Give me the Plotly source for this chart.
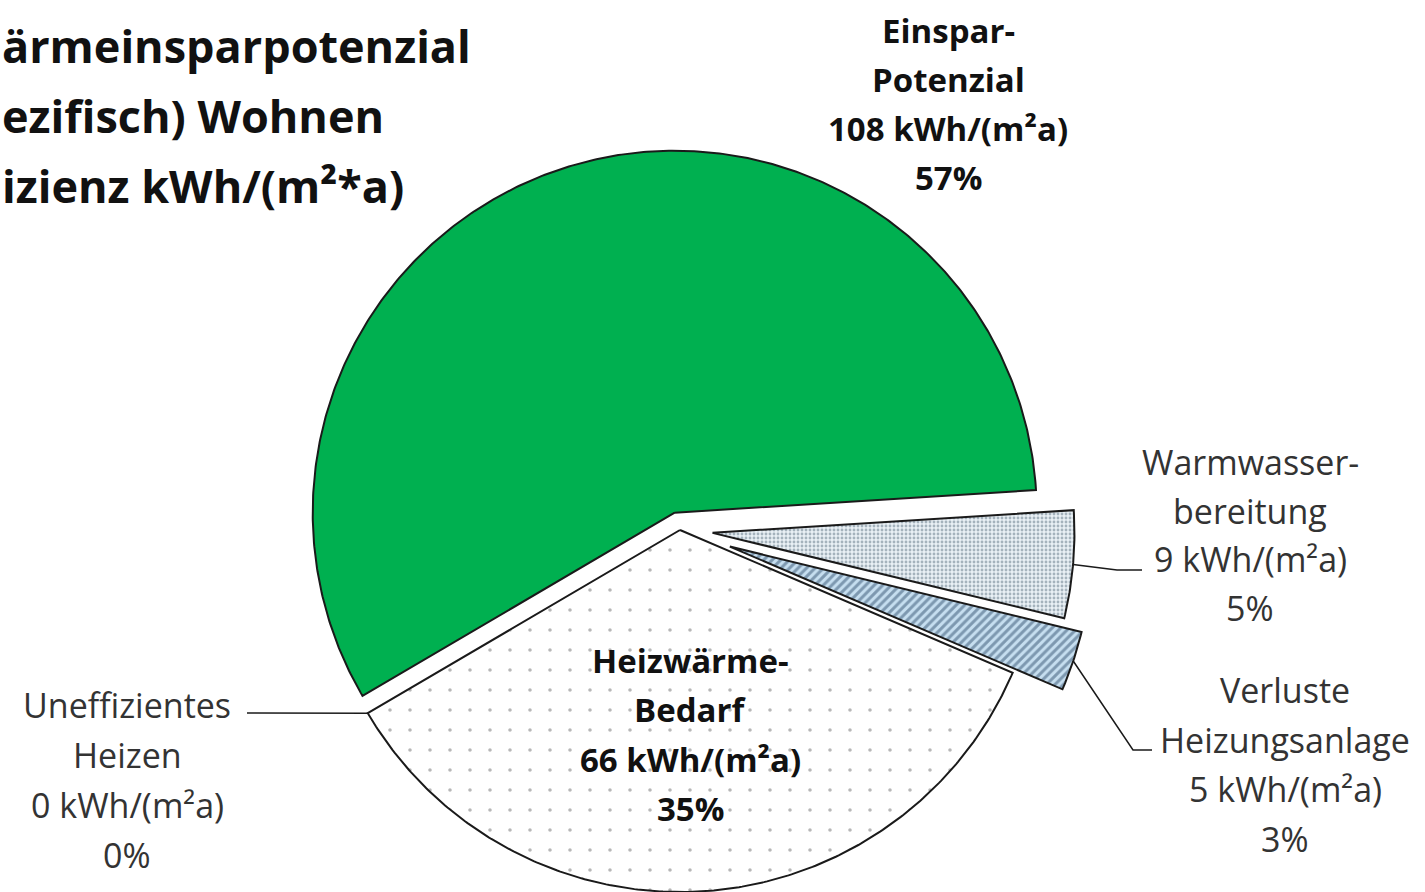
import numpy as np
import plotly.graph_objects as go

# ---------------------------------------------------------------------------
# Data
# ---------------------------------------------------------------------------
slice_names = ["Einspar-Potenzial", "Warmwasserbereitung", "Verluste Heizungsanlage",
               "Heizwärme-Bedarf", "Uneffizientes Heizen"]
label_lines = [["Einspar-", "Potenzial"],
               ["Warmwasser-", "bereitung"],
               ["Verluste", "Heizungsanlage"],
               ["Heizwärme-", "Bedarf"],
               ["Uneffizientes", "Heizen"]]
values = [108, 9, 5, 66, 0]          # kWh/(m²a)
pulls = [0.05, 0.09, 0.145, 0.0, 0.0]  # explosion, fraction of radius

title_lines = ["ärmeinsparpotenzial", "ezifisch) Wohnen", "izienz kWh/(m²*a)"]

# ---------------------------------------------------------------------------
# Layout / style
# ---------------------------------------------------------------------------
W, H = 1425, 892
CX, CY = 680, 530          # pie centre (screen px)
R = 362
START = 210.4              # first slice starts here (deg, ccw from east), runs clockwise
FONT = "Open Sans"
LINE = "#1a1a1a"

fills = [
    dict(fillcolor="#00B050"),
    dict(fillcolor="#e9f0f5", fillpattern=dict(shape=".", size=4, solidity=0.4,
                                               fgcolor="#5f7384", bgcolor="#e9f0f5")),
    dict(fillcolor="#c6def0", fillpattern=dict(shape="/", size=6, solidity=0.5,
                                               fgcolor="#34526f", bgcolor="#c6def0")),
    dict(fillcolor="white", fillpattern=dict(shape=".", size=20, solidity=0.025,
                                             fgcolor="#6f6f6f", bgcolor="white")),
    dict(fillcolor="white"),
]
bold = [True, False, False, True, False]

# label block: centre x, first line y, line step (screen px)
label_pos = [(948, 30, 49), (1250, 462, 48.5), (1285, 690, 49.5),
             (690, 660, 49.5), (127, 705, 50)]
# leader lines: elbow and end points (screen px); start is the slice arc
leader_pts = [None, [(1117, 570), (1142, 570)], [(1133, 750), (1152, 750)],
              None, [(247, 713)]]


def sy(y):
    return H - y


total = float(sum(values))
fig = go.Figure()

angle = START
arc_anchor = []
for i, v in enumerate(values):
    span = v / total * 360.0
    a0, a1 = angle, angle - span
    angle = a1
    mid = np.radians((a0 + a1) / 2)
    ox = CX + pulls[i] * R * np.cos(mid)
    oy = sy(CY) + pulls[i] * R * np.sin(mid)
    if v > 0:
        th = np.radians(np.linspace(a0, a1, max(int(span * 2), 8)))
        xs = np.concatenate([[ox], ox + R * np.cos(th), [ox]])
        ys = np.concatenate([[oy], oy + R * np.sin(th), [oy]])
        fig.add_trace(go.Scatter(
            x=xs, y=ys, mode="lines", fill="toself",
            line=dict(color=LINE, width=2),
            hoverinfo="text", text=slice_names[i], showlegend=False,
            **fills[i],
        ))
        arc_anchor.append((ox + R * np.cos(mid), oy + R * np.sin(mid)))
    else:
        a = np.radians(a0)
        arc_anchor.append((ox + R * np.cos(a), oy + R * np.sin(a)))

# leader lines
for i, pts in enumerate(leader_pts):
    if not pts:
        continue
    xs = [arc_anchor[i][0]] + [p[0] for p in pts]
    ys = [arc_anchor[i][1]] + [sy(p[1]) for p in pts]
    fig.add_trace(go.Scatter(x=xs, y=ys, mode="lines",
                             line=dict(color=LINE, width=1.5),
                             hoverinfo="skip", showlegend=False))

# data labels
for i, v in enumerate(values):
    pct = round(v / total * 100)
    lines = label_lines[i] + [f"{v} kWh/(m²a)", f"{pct}%"]
    x0, y0, step = label_pos[i]
    for k, t in enumerate(lines):
        fig.add_annotation(
            x=x0, y=sy(y0 + k * step), text=f"<b>{t}</b>" if bold[i] else t,
            showarrow=False, xanchor="center", yanchor="middle",
            font=dict(family=FONT, size=33 if bold[i] else 34,
                      color="#111111" if bold[i] else "#333333"),
        )

# title (cut off on the left as in the source image)
for k, t in enumerate(title_lines):
    fig.add_annotation(
        x=0, y=sy(45 + k * 70), text=f"<b>{t}</b>", showarrow=False,
        xanchor="left", yanchor="middle",
        font=dict(family=FONT, size=45, color="#111111"),
    )

fig.update_layout(
    width=W, height=H,
    margin=dict(l=0, r=0, t=0, b=0),
    xaxis=dict(visible=False, range=[0, W], fixedrange=True),
    yaxis=dict(visible=False, range=[0, H], fixedrange=True),
    plot_bgcolor="white", paper_bgcolor="white",
    showlegend=False,
)
fig.write_html("out.html", config={"displayModeBar": False},
               post_script="document.body.style.margin='0';")
